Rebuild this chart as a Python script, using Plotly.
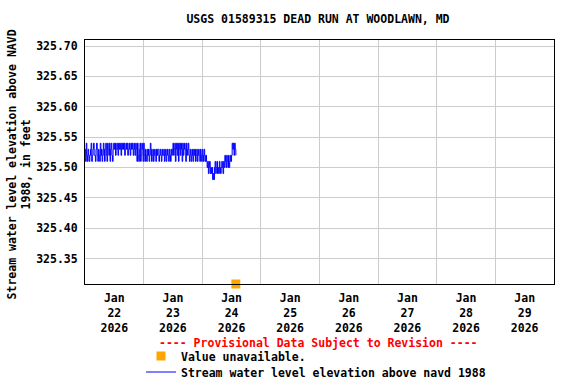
import plotly.graph_objects as go
import pandas as pd

# ---------------- data ----------------
start_time = "2026-01-22 00:00"
interval = "15min"
gage_height = [
    325.53, 325.51, 325.54, 325.52, 325.51, 325.53, 325.52, 325.51, 325.52, 325.53, 325.54, 325.51, 325.52, 325.53, 325.54, 325.52,
    325.52, 325.51, 325.53, 325.54, 325.52, 325.51, 325.53, 325.52, 325.51, 325.54, 325.52, 325.53, 325.51, 325.52, 325.54, 325.53,
    325.51, 325.53, 325.54, 325.52, 325.51, 325.54, 325.53, 325.52, 325.54, 325.51, 325.53, 325.54, 325.52, 325.51, 325.53, 325.54,
    325.53, 325.54, 325.52, 325.53, 325.54, 325.53, 325.52, 325.54, 325.53, 325.54, 325.53, 325.52, 325.54, 325.53, 325.54, 325.53,
    325.54, 325.52, 325.53, 325.54, 325.53, 325.54, 325.52, 325.53, 325.54, 325.53, 325.52, 325.54, 325.53, 325.54, 325.53, 325.52,
    325.54, 325.53, 325.52, 325.54, 325.53, 325.51, 325.54, 325.52, 325.51, 325.53, 325.54, 325.51, 325.52, 325.54, 325.53, 325.51,
    325.54, 325.52, 325.51, 325.53, 325.52, 325.51, 325.53, 325.52, 325.53, 325.51, 325.52, 325.54, 325.53, 325.51, 325.52, 325.53,
    325.51, 325.52, 325.53, 325.52, 325.51, 325.53, 325.52, 325.53, 325.53, 325.51, 325.52, 325.53, 325.52, 325.51, 325.53, 325.52,
    325.52, 325.53, 325.51, 325.52, 325.53, 325.51, 325.52, 325.53, 325.52, 325.51, 325.53, 325.52, 325.51, 325.53, 325.52, 325.53,
    325.54, 325.52, 325.53, 325.54, 325.51, 325.53, 325.54, 325.52, 325.54, 325.51, 325.53, 325.54, 325.52, 325.54, 325.53, 325.51,
    325.54, 325.52, 325.53, 325.54, 325.53, 325.51, 325.54, 325.52, 325.53, 325.54, 325.52, 325.51, 325.53, 325.52, 325.51, 325.53,
    325.52, 325.51, 325.53, 325.52, 325.53, 325.51, 325.52, 325.53, 325.51, 325.52, 325.53, 325.52, 325.51, 325.53, 325.52, 325.51,
    325.53, 325.52, 325.51, 325.53, 325.52, 325.51, 325.52, 325.51, 325.50, 325.51, 325.49, 325.50, 325.51, 325.49, 325.50, 325.49,
    325.50, 325.48, 325.49, 325.48, 325.50, 325.51, 325.49, 325.50, 325.51, 325.49, 325.50, 325.49, 325.51, 325.50, 325.49, 325.50,
    325.51, 325.50, 325.49, 325.51, 325.50, 325.52, 325.51, 325.50, 325.52, 325.51, 325.50, 325.52, 325.50, 325.51, 325.52, 325.51,
    325.52, 325.54, 325.53, 325.54, 325.52, 325.54, 325.53, 325.52,
]
unavailable_time = ["2026-01-24 13:45"]

x_range = ["2026-01-22 00:00", "2026-01-30 00:00"]
y_range = [325.308, 325.71]
y_ticks = [325.35, 325.40, 325.45, 325.50, 325.55, 325.60, 325.65, 325.70]
day_labels = ["Jan<br>22<br>2026", "Jan<br>23<br>2026", "Jan<br>24<br>2026", "Jan<br>25<br>2026",
              "Jan<br>26<br>2026", "Jan<br>27<br>2026", "Jan<br>28<br>2026", "Jan<br>29<br>2026"]
label_times = pd.date_range("2026-01-22 12:00", periods=8, freq="1D")
grid_times = pd.date_range("2026-01-23 00:00", periods=7, freq="1D")

times = pd.date_range(start_time, periods=len(gage_height), freq=interval)

FONT = "DejaVu Sans Mono"
FS = 11.5
legend_font = dict(family=FONT, size=FS, color="black", weight="bold")

fig = go.Figure()
fig.add_trace(go.Scatter(
    x=unavailable_time, y=[y_range[0]], mode="markers",
    marker=dict(symbol="square", size=9, color="#FFA500"),
    name="Value unavailable.", cliponaxis=False, legend="legend",
))
fig.add_trace(go.Scatter(
    x=times, y=gage_height, mode="lines",
    line=dict(color="#0000FF", width=1, shape="hv"),
    name="Stream water level elevation above navd 1988", legend="legend2",
))

fig.update_layout(
    width=576, height=384,
    margin=dict(l=85, r=22, t=40, b=100, autoexpand=False),
    paper_bgcolor="white", plot_bgcolor="white",
    font=dict(family=FONT, size=FS, color="black", weight="bold"),
    title=dict(text="USGS 01589315 DEAD RUN AT WOODLAWN, MD", x=318 / 576, xanchor="center",
               y=1 - 19 / 384, yanchor="middle", yref="container", xref="container",
               font=dict(family=FONT, size=FS, color="black", weight="bold")),
    showlegend=True,
    legend=dict(x=141 / 576, xref="container", xanchor="left",
                y=1 - 356 / 384, yref="container", yanchor="middle",
                bgcolor="rgba(0,0,0,0)", font=legend_font),
    legend2=dict(x=141 / 576, xref="container", xanchor="left",
                 y=1 - 372 / 384, yref="container", yanchor="middle",
                 bgcolor="rgba(0,0,0,0)", font=legend_font),
)

fig.update_xaxes(
    type="date", range=x_range, automargin=False,
    tickmode="array", tickvals=label_times, ticktext=day_labels, ticks="",
    ticklabelstandoff=3,
    showgrid=False,
    minor=dict(tickmode="array", tickvals=grid_times, showgrid=True, gridcolor="#CCCCCC", gridwidth=1, ticks=""),
    showline=True, linecolor="black", linewidth=1, mirror=True,
    zeroline=False, fixedrange=True,
)
fig.update_yaxes(
    range=y_range, automargin=False, tickmode="array", tickvals=y_ticks, tickformat=".2f", ticks="",
    ticklabelstandoff=4,
    showgrid=True, gridcolor="#CCCCCC", gridwidth=1,
    showline=True, linecolor="black", linewidth=1, mirror=True,
    zeroline=False,
)

fig.add_annotation(
    text="Stream water level elevation above NAVD<br>1988, in feet",
    textangle=-90, xref="paper", yref="paper",
    x=(19 - 85) / 469, y=0.49, xanchor="center", yanchor="middle",
    showarrow=False, font=dict(family=FONT, size=FS, color="black", weight="bold"),
)
fig.add_annotation(
    text="---- Provisional Data Subject to Revision ----",
    xref="paper", yref="paper", x=(318 - 85) / 469, y=(284 - 343) / 244,
    xanchor="center", yanchor="middle", showarrow=False,
    font=dict(family=FONT, size=FS, color="red", weight="bold"),
)

fig.write_html("out.html", config={"displayModeBar": False},
               post_script="document.body.style.margin='0';")
